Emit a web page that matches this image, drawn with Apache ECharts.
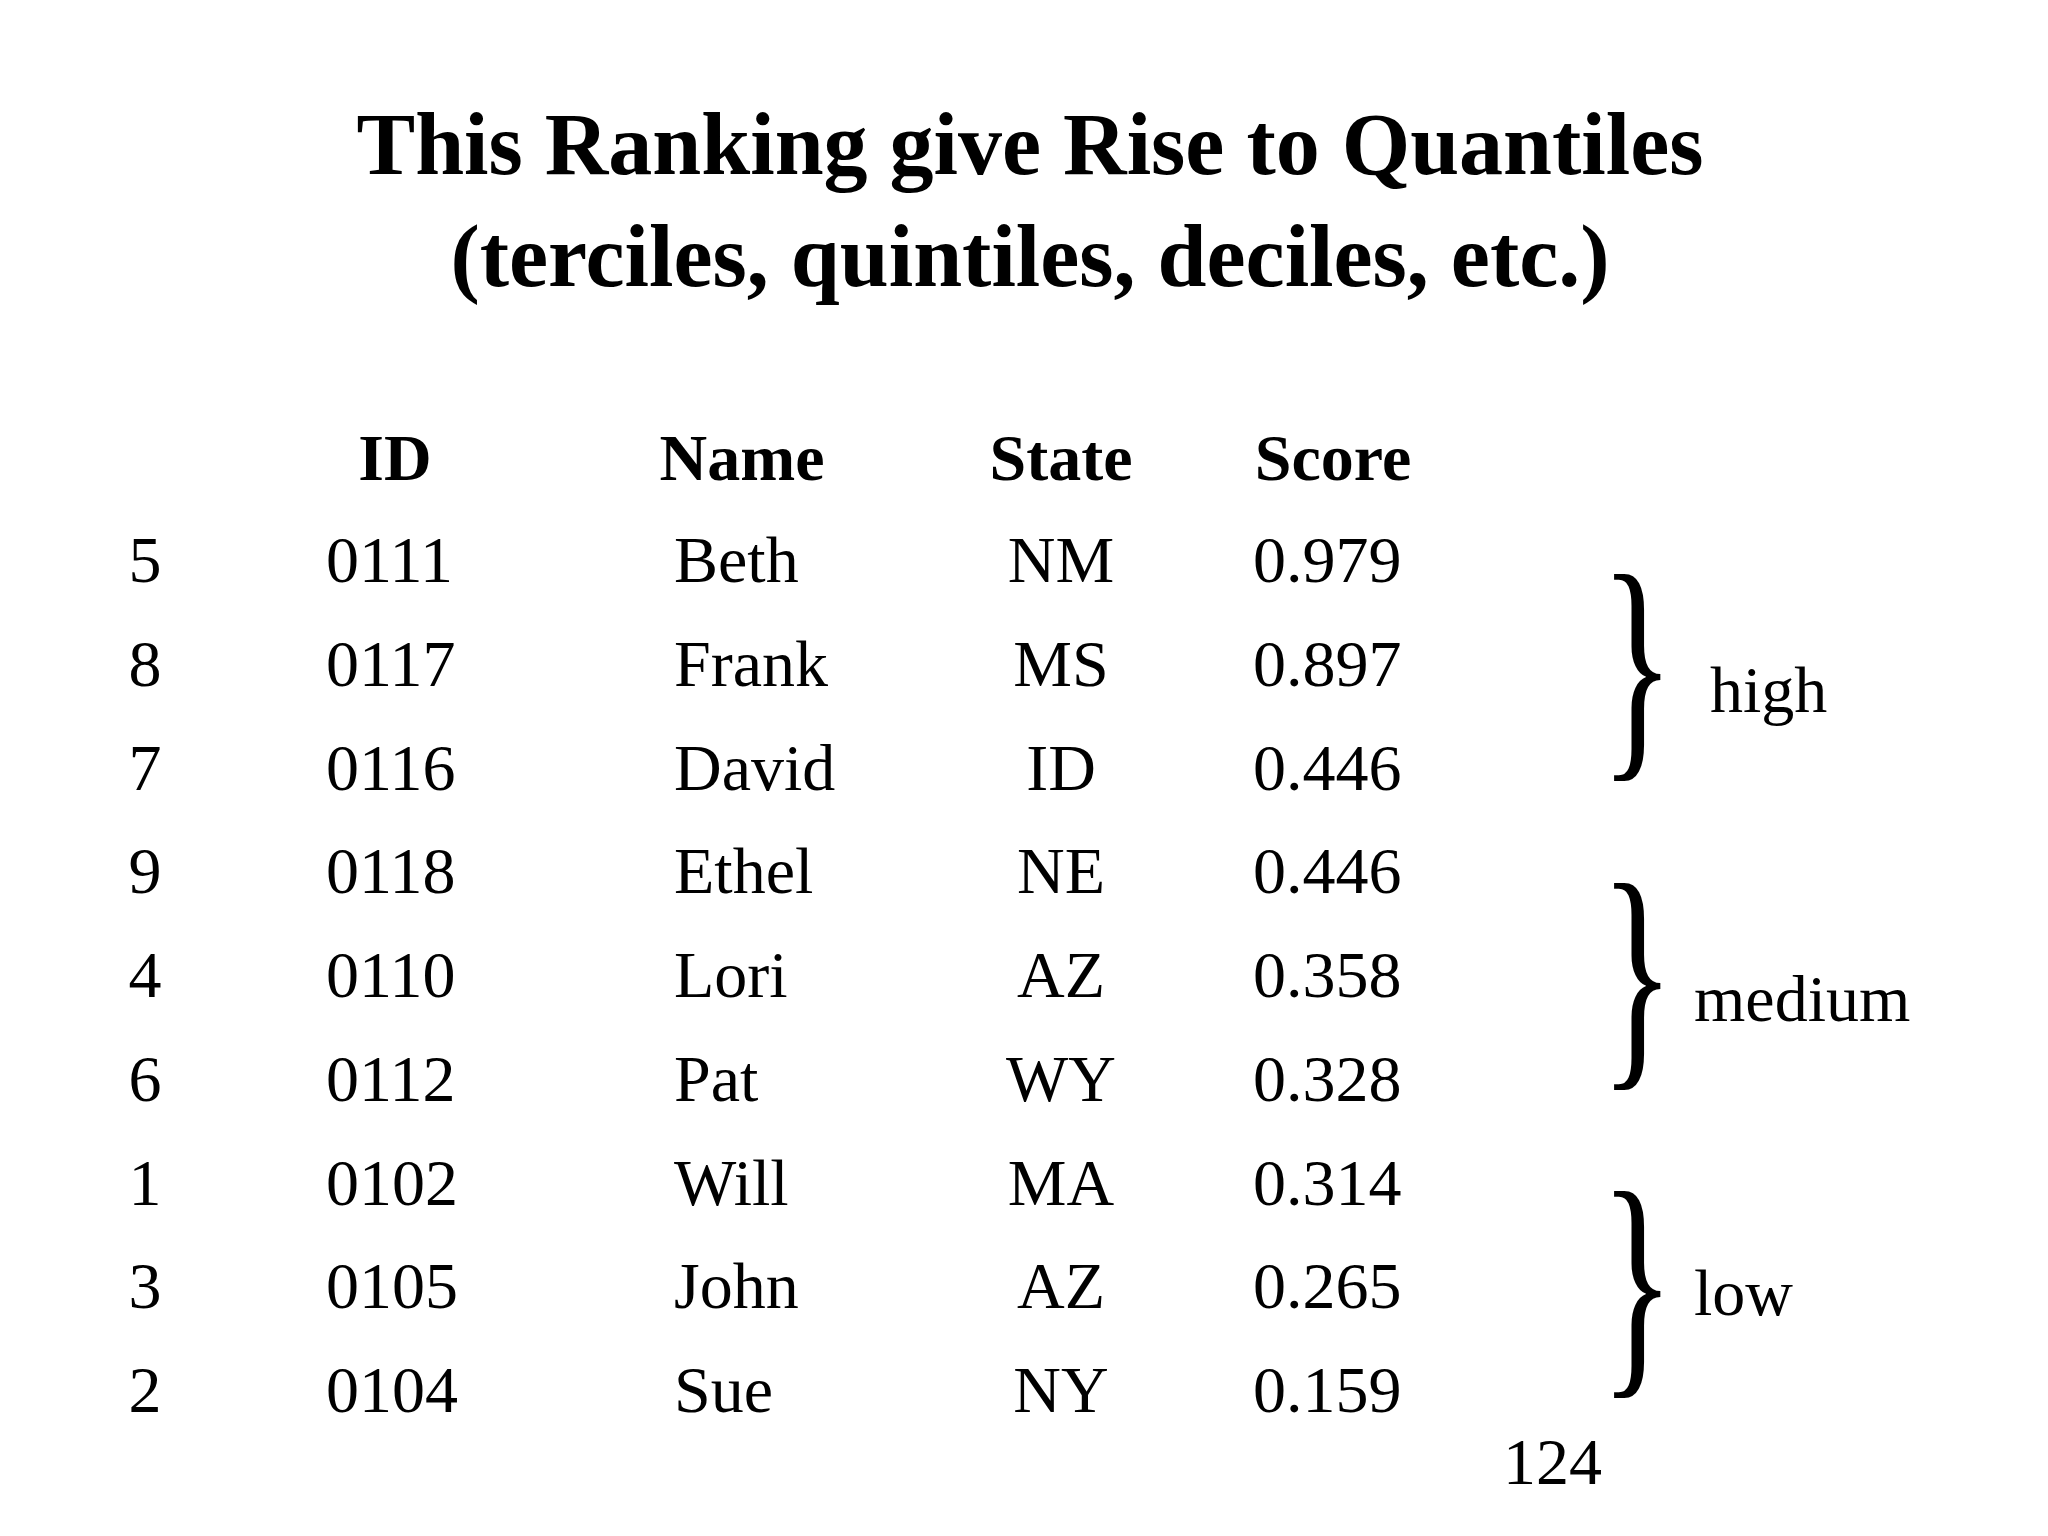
<!DOCTYPE html>
<html><head><meta charset="utf-8">
<script src="https://cdn.jsdelivr.net/npm/echarts@6/dist/echarts.min.js"></script>
<style>html,body{margin:0;padding:0;background:#fff}#c{width:2048px;height:1536px}</style>
</head><body><div id="c"></div>
<script>
const headers = ["ID", "Name", "State", "Score"];
const ranks = ["5","8","7","9","4","6","1","3","2"];
const ids = ["0111","0117","0116","0118","0110","0112","0102","0105","0104"];
const names = ["Beth","Frank","David","Ethel","Lori","Pat","Will","John","Sue"];
const states = ["NM","MS","ID","NE","AZ","WY","MA","AZ","NY"];
const scores = [0.979, 0.897, 0.446, 0.446, 0.358, 0.328, 0.314, 0.265, 0.159];
const groups = ["high", "medium", "low"];

const F = '"Liberation Serif","Times New Roman",serif';
const rowY0 = 565, rowStep = 103.7;
const colX = {rank:[145,'center'], id:[326,'left'], name:[674,'left'], state:[1061,'center'], score:[1253,'left']};
const headerX = [395, 742, 1061, 1333];

function col(key, vals){
  return {
    type:'scatter', symbolSize:0, silent:true, itemStyle:{opacity:1},
    data: vals.map((v,i)=>({value:[colX[key][0], rowY0+rowStep*i], txt:String(typeof v==='number'?v.toFixed(3):v)})),
    label:{show:true, position:'inside', formatter:p=>p.data.txt, fontFamily:F, fontSize:66, color:'#000', opacity:1, align:colX[key][1], verticalAlign:'middle'}
  };
}
const series = [
  col('rank', ranks), col('id', ids), col('name', names), col('state', states), col('score', scores),
  {type:'scatter', symbolSize:0, silent:true, itemStyle:{opacity:1},
   data: headers.map((h,i)=>({value:[headerX[i], 463], txt:h})),
   label:{show:true, position:'inside', formatter:p=>p.data.txt, fontFamily:F, fontWeight:'bold', fontSize:66, color:'#000', opacity:1, align:'center', verticalAlign:'middle'}}
];
const braceY = [682, 991, 1299];
const labelPos = [[1722,695],[1706,1004],[1706,1298]];
const graphic = [
  {type:'text', x:1030, y:151, style:{text:'This Ranking give Rise to Quantiles', font:'bold 88px '+F, fill:'#000', align:'center', verticalAlign:'middle'}},
  {type:'text', x:1030, y:263, style:{text:'(terciles, quintiles, deciles, etc.)', font:'bold 88px '+F, fill:'#000', align:'center', verticalAlign:'middle'}},
  {type:'text', x:1503, y:1467, style:{text:'124', font:'66px '+F, fill:'#000', verticalAlign:'middle'}}
];
groups.forEach((g,i)=>{
  graphic.push({type:'text', x:1600, y:braceY[i], scaleX:0.62, style:{text:'}', font:'250px '+F, fill:'#000', verticalAlign:'middle'}});
  graphic.push({type:'text', x:labelPos[i][0]-12, y:labelPos[i][1], style:{text:g, font:'66px '+F, fill:'#000', verticalAlign:'middle'}});
});
const chart = echarts.init(document.getElementById('c'));
chart.setOption({
  backgroundColor:'#fff', animation:false,
  grid:{left:0,right:0,top:0,bottom:0},
  xAxis:{type:'value', min:0, max:2048, show:false},
  yAxis:{type:'value', min:0, max:1536, inverse:true, show:false},
  series, graphic
});
</script></body></html>
